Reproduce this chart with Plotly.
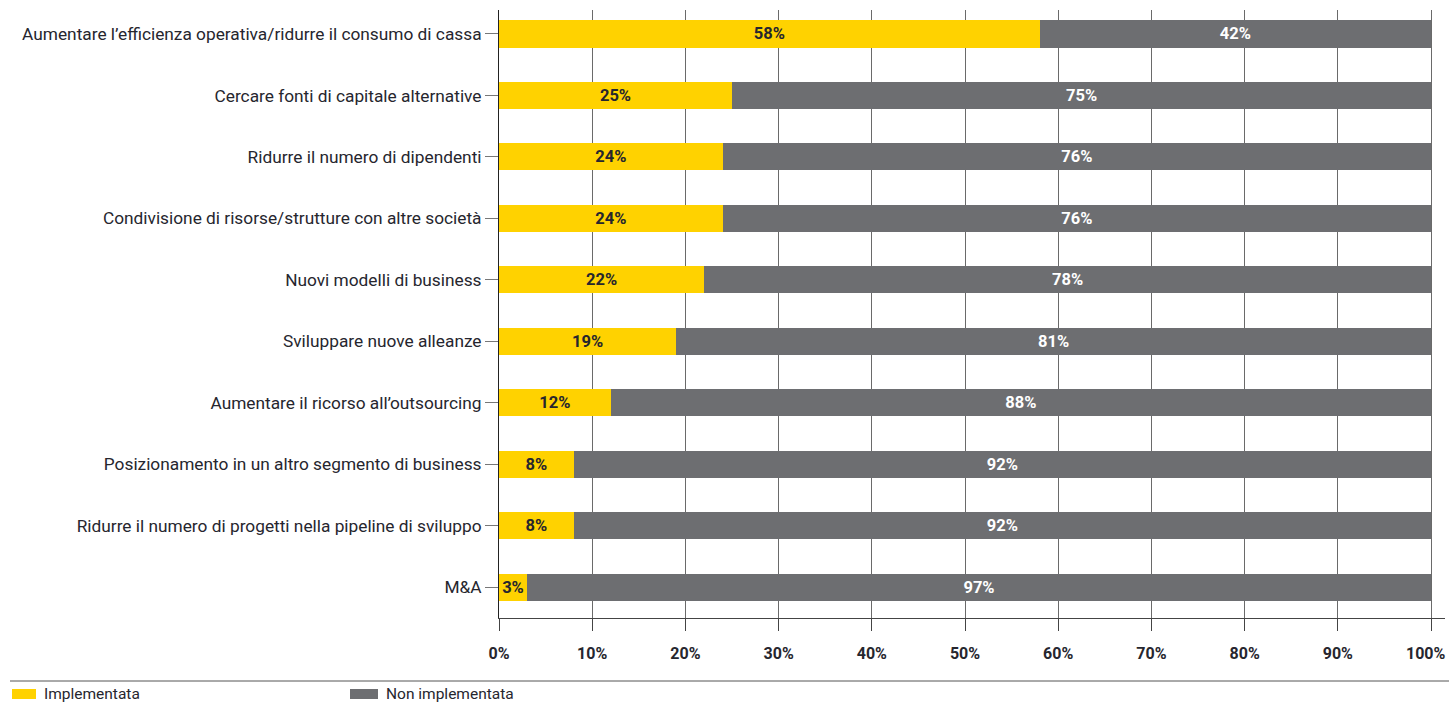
import plotly.graph_objects as go

categories = [
    "Aumentare l’efficienza operativa/ridurre il consumo di cassa",
    "Cercare fonti di capitale alternative",
    "Ridurre il numero di dipendenti",
    "Condivisione di risorse/strutture con altre società",
    "Nuovi modelli di business",
    "Sviluppare nuove alleanze",
    "Aumentare il ricorso all’outsourcing",
    "Posizionamento in un altro segmento di business",
    "Ridurre il numero di progetti nella pipeline di sviluppo",
    "M&A",
]
implementata = [58, 25, 24, 24, 22, 19, 12, 8, 8, 3]
non_implementata = [42, 75, 76, 76, 78, 81, 88, 92, 92, 97]

tick_vals = [0, 10, 20, 30, 40, 50, 60, 70, 80, 90, 100]
tick_text = [f"{v}%" for v in tick_vals]

YELLOW = "#FFD200"
GREY = "#6D6E71"
TEXT = "#26262E"
FONT = "Roboto, Open Sans, sans-serif"

W, H = 1449, 702
ML, MR, MT, MB = 499, 4, 10, 84

fig = go.Figure()
fig.add_trace(go.Bar(
    y=categories, x=implementata, orientation="h", name="Implementata",
    marker=dict(color=YELLOW, line=dict(width=0)),
    text=[f"{v}%" for v in implementata], textposition="inside",
    insidetextanchor="middle", constraintext="none",
    textfont=dict(family=FONT, size=16.5, color=TEXT, weight="bold"),
))
fig.add_trace(go.Bar(
    y=categories, x=non_implementata, orientation="h", name="Non implementata",
    marker=dict(color=GREY, line=dict(width=0)),
    text=[f"{v}%" for v in non_implementata], textposition="inside",
    insidetextanchor="middle", constraintext="none",
    textfont=dict(family=FONT, size=16.5, color="white", weight="bold"),
))

fig.update_layout(
    width=W, height=H,
    margin=dict(l=ML, r=MR, t=MT, b=MB, autoexpand=False),
    barmode="stack", bargap=0.56,
    plot_bgcolor="white", paper_bgcolor="white",
    showlegend=False,
    font=dict(family=FONT, size=17, color=TEXT),
    uniformtext=dict(mode=False),
)

TICK_FONT = dict(family=FONT, size=16, color=TEXT, weight="bold")
# all tick labels except the last come from the axis; the last one is an
# annotation nudged left so it stays inside the page edge
fig.update_xaxes(
    range=[0, 101.5], tickvals=tick_vals, ticktext=tick_text[:-1] + [""],
    automargin=False,
    showgrid=True, gridcolor="#6A6A6A", gridwidth=1,
    showline=True, linecolor="#444444", linewidth=1,
    ticks="outside", ticklen=12, tickcolor="#444444", tickwidth=1,
    tickfont=TICK_FONT,
    ticklabelstandoff=9, zeroline=False,
)
fig.update_yaxes(
    type="category", range=[9.5, -0.39], automargin=False,
    showline=True, linecolor="#222222", linewidth=1,
    ticks="outside", ticklen=13, tickcolor="#777777", tickwidth=1,
    tickfont=dict(family=FONT, size=17.3, color=TEXT),
    showgrid=False,
)

def px_x(x):
    return (x - ML) / (W - ML - MR)

def px_y(y):
    return ((H - MB) - y) / (H - MT - MB)

fig.add_annotation(xref="x", yref="paper", x=tick_vals[-1], y=px_y(653),
                   text=tick_text[-1], showarrow=False, xanchor="center",
                   yanchor="middle", xshift=-5, font=TICK_FONT)

# Legend: separator rule plus two swatches with labels
fig.add_shape(type="line", xref="paper", yref="paper",
              x0=px_x(10), x1=px_x(W), y0=px_y(681), y1=px_y(681),
              line=dict(color="#555555", width=1))

legend_items = [("Implementata", YELLOW, 12, 36), ("Non implementata", GREY, 350, 378)]
for label, color, x0, x1 in legend_items:
    fig.add_shape(type="rect", xref="paper", yref="paper",
                  x0=px_x(x0), x1=px_x(x1), y0=px_y(699), y1=px_y(689),
                  fillcolor=color, line=dict(width=0))
    fig.add_annotation(xref="paper", yref="paper", x=px_x(x1 + 6), y=px_y(694),
                       text=label, showarrow=False, xanchor="left", yanchor="middle",
                       font=dict(family=FONT, size=15.5, color=TEXT))

fig.write_html("out.html")
